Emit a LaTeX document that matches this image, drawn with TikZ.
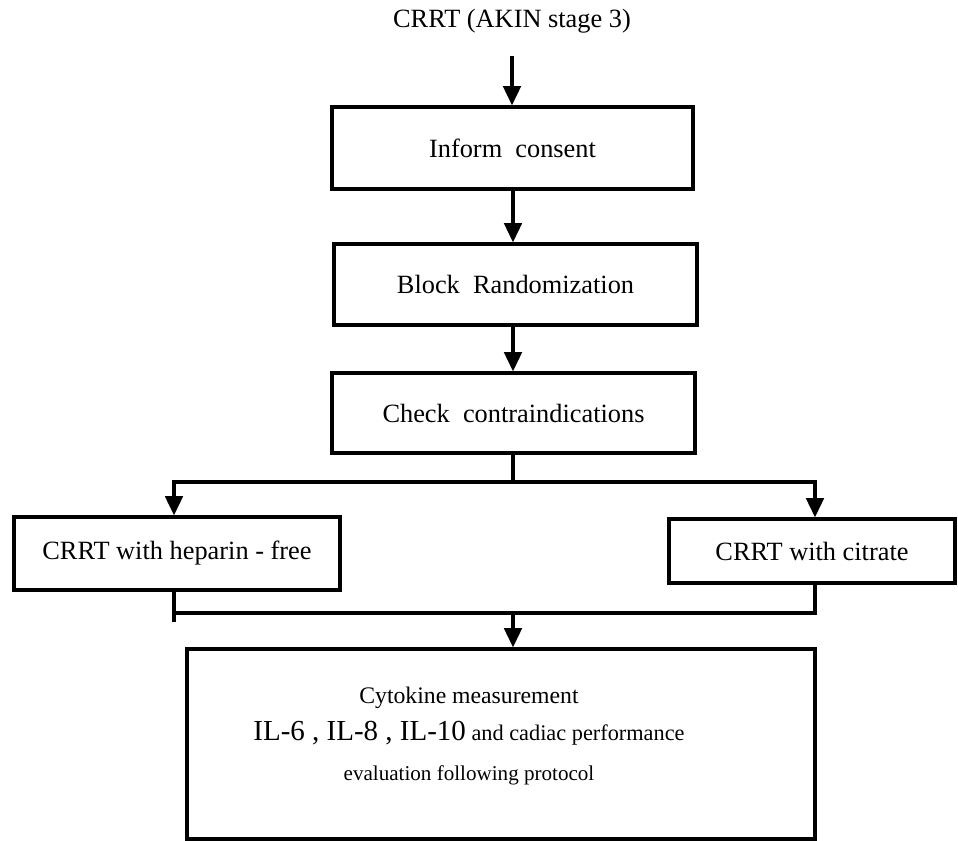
\documentclass[tikz,border=0pt]{standalone}
\usepackage{fontspec}
\setmainfont{Liberation Serif}
\usetikzlibrary{arrows.meta,positioning,calc}

\begin{document}
\begin{tikzpicture}[
    x=0.02cm, y=-0.02cm,
    stage/.style={draw, line width=1.8pt, align=center, inner sep=0pt,
                  font=\fontsize{15}{18}\selectfont},
    flow/.style={line width=1.8pt, -{Triangle[width=10pt,length=11pt]}},
    link/.style={line width=1.8pt}
]
\useasboundingbox (0,0) rectangle (958,841);
\node[font=\fontsize{15}{18}\selectfont, inner xsep=0pt, inner ysep=13pt] (title) at (512,21) {CRRT (AKIN stage 3)};
\node[stage, minimum width=7.22cm, minimum height=1.64cm] (consent) at (512.5,148) {Inform\ \ consent};
\node[stage, minimum width=7.26cm, minimum height=1.62cm] (random) at (515.5,284.5) {Block\ \ Randomization};
\node[stage, minimum width=7.26cm, minimum height=1.6cm] (contra) at (513.5,413) {Check\ \ contraindications};
\node[stage, minimum width=6.52cm, minimum height=1.46cm] (heparin) at (177,553.5) {CRRT with heparin - free};
\node[stage, minimum width=5.72cm, minimum height=1.28cm] (citrate) at (812,551) {CRRT with citrate};
\node[stage, minimum width=12.56cm, minimum height=3.8cm] (cyto) at (501,744) {};
\node[align=center, inner sep=0pt] (cytotext) at (469,736) {
    {\fontsize{13.5}{16}\selectfont Cytokine measurement}\\[6pt]
    {\fontsize{16.5}{20}\selectfont IL-6 , IL-8 , IL-10}{\fontsize{12.7}{15}\selectfont{} and cadiac performance}\\[11pt]
    {\fontsize{12}{15}\selectfont evaluation following protocol}
};
\coordinate (split) at (513,482);
\coordinate (merge) at (513,613);
\draw[flow] (title.south) -- (title.south |- consent.north);
\draw[flow] (consent.south -| merge) -- (random.north -| merge);
\draw[flow] (random.south -| merge) -- (contra.north -| merge);
\draw[link] (contra.south -| split) -- ($(split)+(0,2)$);
\draw[flow] (split) -| ($(heparin.north)+(-3,0)$);
\draw[flow] (split) -| ($(citrate.north)+(3,0)$);
\draw[link] ($(heparin.south)+(-3,0)$) -- ++(0,30);
\draw[link] ($(heparin.south)+(-3,0)$) |- (merge) -| ($(citrate.south)+(3,0)$);
\draw[flow] (merge) -- (merge |- cyto.north);
\end{tikzpicture}
\end{document}
